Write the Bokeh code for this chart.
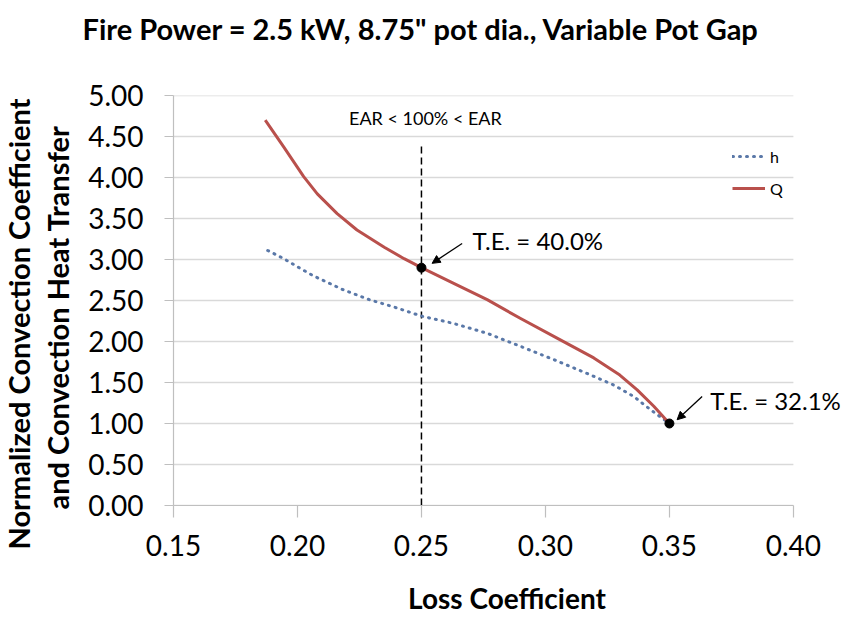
from bokeh.plotting import figure
from bokeh.models import (Legend, LegendItem, Label, Arrow, NormalHead, Title,
                          FixedTicker, NumeralTickFormatter)
from bokeh.embed import file_html
from bokeh.resources import INLINE

# ---- data ----
title_text = 'Fire Power = 2.5 kW, 8.75" pot dia., Variable Pot Gap'
x_label = "Loss Coefficient"
y_label_1 = "Normalized Convection Coefficient"
y_label_2 = "and Convection Heat Transfer"

x_ticks = [0.15, 0.20, 0.25, 0.30, 0.35, 0.40]
y_ticks = [0.0, 0.5, 1.0, 1.5, 2.0, 2.5, 3.0, 3.5, 4.0, 4.5, 5.0]

q_x = [0.187, 0.1945, 0.2025, 0.208, 0.216, 0.224, 0.235, 0.243, 0.250,
       0.263, 0.2765, 0.290, 0.306, 0.3195, 0.330, 0.337, 0.3437, 0.350]
q_y = [4.70, 4.37, 4.01, 3.80, 3.56, 3.36, 3.15, 3.01, 2.90,
       2.71, 2.51, 2.28, 2.02, 1.80, 1.59, 1.41, 1.21, 1.00]

h_x = [0.188, 0.1945, 0.2012, 0.2065, 0.2185, 0.229, 0.240, 0.250, 0.263,
       0.2765, 0.290, 0.3033, 0.3168, 0.3275, 0.3356, 0.3423, 0.350]
h_y = [3.11, 3.01, 2.89, 2.80, 2.63, 2.51, 2.41, 2.31, 2.22,
       2.10, 1.94, 1.78, 1.61, 1.47, 1.33, 1.17, 1.00]

marker_x = [0.25, 0.35]
marker_y = [2.90, 1.00]
marker_text = ["T.E. = 40.0%", "T.E. = 32.1%"]

ear_x = 0.25
ear_top = 4.39
ear_text = "EAR < 100% < EAR"
ear_text_x = 0.2516
ear_text_y = 4.72

FONT = "Lato"
x_lo, x_hi = x_ticks[0], x_ticks[-1]

p = figure(width=841, height=617, x_range=(0.15, 0.419), y_range=(0, 5),
           title=None,
           output_backend="svg", toolbar_location=None,
           min_border_left=173, min_border_right=1,
           min_border_top=95, min_border_bottom=111)

p.outline_line_color = None
p.background_fill_color = "white"
p.border_fill_color = "white"

# title: an invisible spacer next to the frame, then the real title
spacer = Title(text=" ", text_font=FONT, text_font_size="29px", standoff=8)
p.add_layout(spacer, "above")
main_title = Title(text=title_text, text_font=FONT, text_font_size="29px",
                   text_font_style="bold", text_color="black", align="left",
                   offset=-91, standoff=10)
p.add_layout(main_title, "above")

# grid (drawn as segments over the axis extent only)
p.xgrid.visible = False
p.ygrid.visible = False
p.segment(x0=[x_lo] * len(y_ticks), y0=y_ticks, x1=[x_hi] * len(y_ticks),
          y1=y_ticks, line_color="#d9d9d9", line_width=1.5)

# axes
for ax in (p.xaxis[0], p.yaxis[0]):
    ax.axis_line_color = "#bfbfbf"
    ax.axis_line_width = 1.2
    ax.major_tick_line_color = "#bfbfbf"
    ax.major_tick_line_width = 1.2
    ax.major_tick_in = 0
    ax.minor_tick_line_color = None
    ax.major_label_text_font = FONT
    ax.major_label_text_font_size = "28px"
    ax.major_label_text_color = "black"
    ax.formatter = NumeralTickFormatter(format="0.00")

p.xaxis.ticker = FixedTicker(ticks=x_ticks)
p.yaxis.ticker = FixedTicker(ticks=y_ticks)
p.xaxis.bounds = (x_lo, x_hi)
p.xaxis.major_tick_out = 12
p.yaxis.major_tick_out = 9
p.xaxis.major_label_standoff = 17
p.yaxis.major_label_standoff = 21

p.xaxis.axis_label = x_label
p.xaxis.axis_label_text_font = FONT
p.xaxis.axis_label_text_font_size = "28px"
p.xaxis.axis_label_text_font_style = "bold"
p.xaxis.axis_label_text_color = "black"
p.xaxis.axis_label_standoff = 22

# y labels as two stacked titles
for txt, so, off in ((y_label_2, 22, -4), (y_label_1, -18, -44)):
    t = Title(text=txt, align="left", text_font=FONT, text_font_size="29px",
              text_font_style="bold", text_color="black", standoff=so, offset=off)
    p.add_layout(t, "left")

# dashed vertical line
p.line([ear_x, ear_x], [0, ear_top], line_color="black", line_width=1.5,
       line_dash="7 4")
p.add_layout(Label(x=ear_text_x, y=ear_text_y, text=ear_text, text_align="center",
                   text_baseline="middle", text_font=FONT,
                   text_font_size="18px", text_color="black"))

# series
rh = p.line(h_x, h_y, line_color="#5a78a8", line_width=3, line_dash="1 6",
            line_cap="round")
rq = p.line(q_x, q_y, line_color="#b9504c", line_width=3, line_join="round")

# markers
p.scatter(marker_x, marker_y, size=9, color="black")

# arrows and annotations
arrow_specs = [
    # (x_start, y_start, x_end, y_end, text_x, text_y)
    (0.2664, 3.196, 0.2543, 2.953, 0.2706, 3.236),
    (0.3632, 1.33, 0.3531, 1.046, 0.3665, 1.277),
]
for (xs, ys, xe, ye, tx, ty), txt in zip(arrow_specs, marker_text):
    p.add_layout(Arrow(end=NormalHead(size=8, fill_color="black", line_color="black"),
                       x_start=xs, y_start=ys, x_end=xe, y_end=ye,
                       line_color="black", line_width=1.3))
    p.add_layout(Label(x=tx, y=ty, text=txt, text_align="left",
                       text_baseline="middle", text_font=FONT,
                       text_font_size="24px", text_color="black"))

legend = Legend(items=[LegendItem(label="h", renderers=[rh]),
                       LegendItem(label="Q", renderers=[rq])],
                location=(559, 307), orientation="vertical",
                background_fill_alpha=0, border_line_color=None,
                padding=0, margin=0, spacing=12, glyph_width=33,
                glyph_height=20, label_standoff=5,
                label_text_font=FONT, label_text_font_size="16px",
                label_text_color="black")
p.add_layout(legend)

open("out.html", "w").write(file_html(p, INLINE))
